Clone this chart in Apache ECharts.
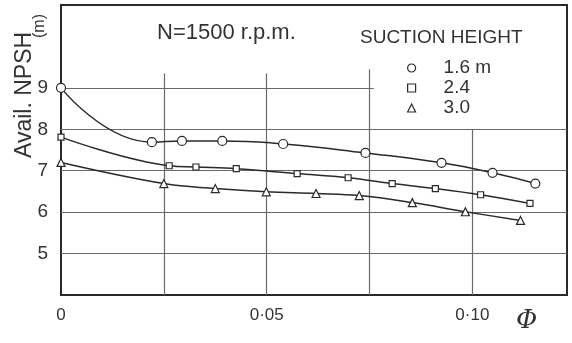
<!DOCTYPE html>
<html>
<head>
<meta charset="utf-8">
<script src="https://cdn.jsdelivr.net/npm/echarts@6/dist/echarts.min.js"></script>
<style>
  html, body { margin: 0; padding: 0; background: #fff; }
  #chart { width: 572px; height: 343px; }
</style>
</head>
<body>
<div id="chart"></div>
<script>
// flow coefficient Phi vs available NPSH (m), N = 1500 r.p.m.
const seriesNames = ['1.6 m', '2.4', '3.0']
const symbols = ['circle', 'rect', 'triangle']

const h16 = [
  [0, 9.0], [0.0221, 7.69], [0.0294, 7.72], [0.0392, 7.72], [0.054, 7.645],
  [0.074, 7.43], [0.0925, 7.19], [0.1049, 6.95], [0.1153, 6.69]
]
const h24 = [
  [0, 7.81], [0.0263, 7.12], [0.0328, 7.09], [0.0426, 7.05], [0.0574, 6.93],
  [0.0698, 6.83], [0.0805, 6.69], [0.091, 6.57], [0.102, 6.42], [0.114, 6.21]
]
const h30 = [
  [0, 7.2], [0.025, 6.69], [0.0375, 6.57], [0.0499, 6.49], [0.062, 6.45],
  [0.0725, 6.40], [0.0854, 6.23], [0.0983, 6.01], [0.1117, 5.80]
]

const xLabels = { 0: '0', 0.05: '0·05', 0.1: '0·10' }
const yLabels = [5, 6, 7, 8, 9]
const xGrid = [0.025, 0.05, 0.075, 0.1]
const yGrid = [5, 6, 7, 8, 9]

const chart = echarts.init(document.getElementById('chart'), null, { renderer: 'canvas' })

const ink = '#2a2a2a'
const gridInk = '#6a6a6a'
const X_MAX = 0.123

// grid lines stop short of the title and legend
const vTop = { 0.025: 9.35, 0.05: 9.35, 0.075: 9.45, 0.1: 8.0 }
const hRight = { 9: 0.076 }
const gridLines = []
xGrid.forEach(x => gridLines.push([{ coord: [x, 4] }, { coord: [x, vTop[x]] }]))
yGrid.forEach(y => gridLines.push([{ coord: [0, y] }, { coord: [hRight[y] || X_MAX, y] }]))

const series = [h16, h24, h30].map((d, i) => ({
  name: seriesNames[i],
  type: 'line',
  data: d,
  smooth: [0.5, 0.4, 0.4][i],
  symbol: symbols[i],
  symbolSize: [9, 6, 8][i],
  showAllSymbol: true,
  lineStyle: { color: ink, width: 1.5 },
  itemStyle: { color: '#fff', borderColor: ink, borderWidth: 1.2 },
  z: 5
}))
series[0].markLine = {
  silent: true,
  symbol: 'none',
  label: { show: false },
  animation: false,
  lineStyle: { color: gridInk, width: 1.2, type: 'solid' },
  data: gridLines,
  z: 1
}

chart.setOption({
  animation: false,
  backgroundColor: '#fff',
  grid: {
    left: 61, right: 5, top: 5, bottom: 48,
    show: true, borderColor: ink, borderWidth: 2, backgroundColor: 'transparent'
  },
  xAxis: {
    type: 'value',
    min: 0,
    max: X_MAX,
    interval: 0.025,
    axisLine: { lineStyle: { color: ink, width: 2 } },
    axisTick: { show: false },
    splitLine: { show: false },
    axisLabel: {
      color: '#333',
      fontSize: 17,
      fontFamily: 'Liberation Sans',
      margin: 12,
      showMaxLabel: false,
      formatter: v => {
        const k = Object.keys(xLabels).find(key => Math.abs(+key - v) < 1e-9)
        return k !== undefined ? xLabels[k] : ''
      }
    }
  },
  yAxis: {
    type: 'value',
    min: 4,
    max: 11,
    interval: 1,
    axisLine: { lineStyle: { color: ink, width: 2 } },
    axisTick: { show: false },
    splitLine: { show: false },
    axisLabel: {
      color: '#333',
      fontSize: 19,
      fontFamily: 'Liberation Sans',
      margin: 13,
      formatter: v => (yLabels.includes(v) ? String(v) : '')
    }
  },
  legend: {
    orient: 'vertical',
    left: 402,
    top: 53,
    itemWidth: 8,
    itemHeight: 8,
    itemGap: 0,
    selectedMode: false,
    data: seriesNames.map((n, i) => ({ name: n, icon: symbols[i] })),
    itemStyle: { color: '#fff', borderColor: ink, borderWidth: 1.2 },
    lineStyle: { width: 0 },
    textStyle: { color: '#333', fontSize: 19, fontFamily: 'Liberation Sans', padding: [0, 0, 0, 23], lineHeight: 20 }
  },
  graphic: [
    {
      type: 'text', left: 157, top: 22,
      style: { text: 'N=1500 r.p.m.', fill: '#333', fontSize: 22, fontFamily: 'Liberation Sans' }
    },
    {
      type: 'text', left: 360, top: 28,
      style: { text: 'SUCTION HEIGHT', fill: '#333', fontSize: 19, fontFamily: 'Liberation Sans' }
    },
    {
      type: 'text', x: 13, y: 158, rotation: Math.PI / 2,
      style: { text: 'Avail. NPSH', fill: '#333', fontSize: 23, fontFamily: 'Liberation Sans' }
    },
    {
      type: 'text', x: 32, y: 38, rotation: Math.PI / 2,
      style: { text: '(m)', fill: '#333', fontSize: 16, fontFamily: 'Liberation Sans' }
    },
    {
      type: 'text', left: 516, top: 308,
      style: { text: 'Φ', fill: '#333', fontSize: 26, fontStyle: 'italic', fontFamily: 'DejaVu Serif' }
    }
  ],
  series
})
</script>
</body>
</html>
